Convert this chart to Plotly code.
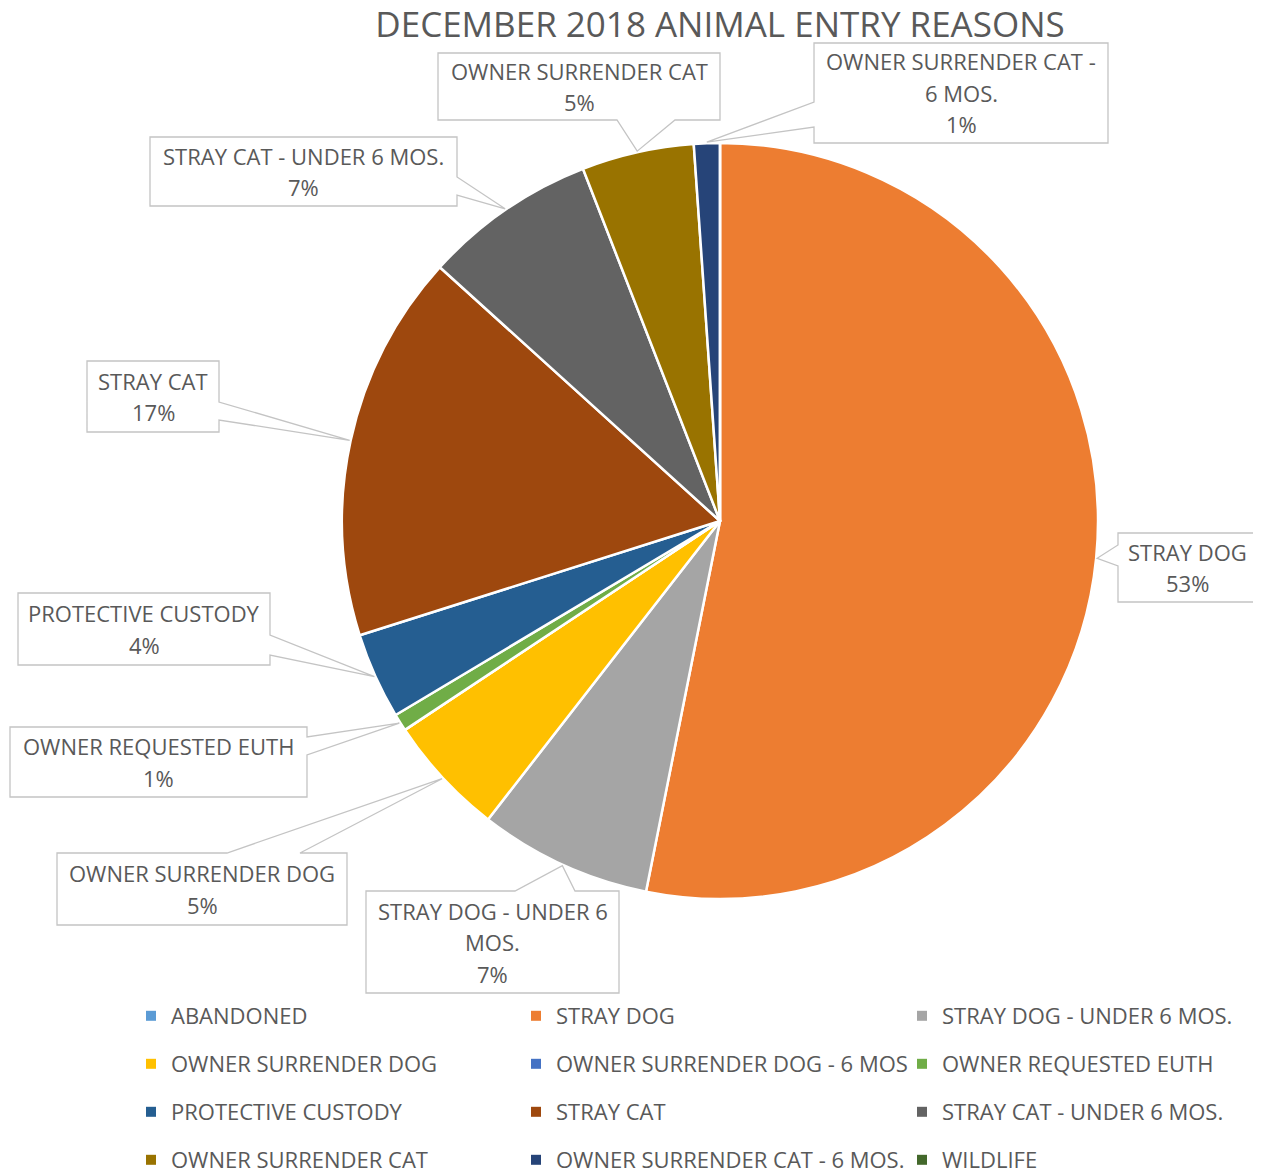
import math
import plotly.graph_objects as go

# ---------------- data ----------------
categories = [
    "ABANDONED", "STRAY DOG", "STRAY DOG - UNDER 6 MOS.",
    "OWNER SURRENDER DOG", "OWNER SURRENDER DOG - 6 MOS", "OWNER REQUESTED EUTH",
    "PROTECTIVE CUSTODY", "STRAY CAT", "STRAY CAT - UNDER 6 MOS.",
    "OWNER SURRENDER CAT", "OWNER SURRENDER CAT - 6 MOS.", "WILDLIFE",
]
counts = [0, 144, 20, 14, 0, 2, 10, 45, 20, 13, 3, 0]
colors = [
    "#5B9BD5", "#ED7D31", "#A5A5A5", "#FFC000", "#4472C4", "#70AD47",
    "#255E91", "#9E480E", "#636363", "#997300", "#264478", "#43682B",
]
title_text = "DECEMBER 2018 ANIMAL ENTRY REASONS"

# ---------------- layout constants ----------------
W, H = 1261, 1172
OFF = 8  # page body margin offset
CX, CY, R = 720, 521, 378
FONT = "Open Sans, sans-serif"
TXT = "#595959"
BOX_LINE = "#C4C4C4"
FS = 22

# callout boxes (pixel layout): box, tail side, tail base span, label lines
callouts = {
    "STRAY DOG": dict(box=(1118, 533, 1256, 602), side="left", base=(545, 566), lines=["STRAY DOG"]),
    "STRAY DOG - UNDER 6 MOS.": dict(box=(366, 891, 619, 993), side="top", base=(515, 575),
                                     lines=["STRAY DOG - UNDER 6", "MOS."]),
    "OWNER SURRENDER DOG": dict(box=(57, 853, 347, 925), side="top", base=(227, 300),
                                lines=["OWNER SURRENDER DOG"]),
    "OWNER REQUESTED EUTH": dict(box=(10, 727, 307, 797), side="right", base=(737, 755),
                                 lines=["OWNER REQUESTED EUTH"]),
    "PROTECTIVE CUSTODY": dict(box=(18, 593, 270, 665), side="right", base=(635, 655),
                               lines=["PROTECTIVE CUSTODY"]),
    "STRAY CAT": dict(box=(87, 361, 219, 432), side="right", base=(402, 420), lines=["STRAY CAT"]),
    "STRAY CAT - UNDER 6 MOS.": dict(box=(150, 137, 457, 206), side="right", base=(177, 195),
                                     lines=["STRAY CAT - UNDER 6 MOS."]),
    "OWNER SURRENDER CAT": dict(box=(438, 53, 720, 120), side="bottom", base=(617, 675),
                                lines=["OWNER SURRENDER CAT"]),
    "OWNER SURRENDER CAT - 6 MOS.": dict(box=(814, 43, 1108, 143), side="left", base=(102, 127),
                                         lines=["OWNER SURRENDER CAT -", "6 MOS."]),
}


def px(x):
    return (x - OFF) / W


def py(y):
    return 1 - (y - OFF) / H


fig = go.Figure()

fig.add_trace(go.Pie(
    labels=categories, values=counts, sort=False, direction="clockwise", rotation=0,
    marker=dict(colors=colors, line=dict(color="white", width=2.5)),
    textinfo="none", showlegend=False,
    domain=dict(x=[px(CX - R), px(CX + R)], y=[py(CY + R), py(CY - R)]),
))

# ---------------- callouts ----------------
total = sum(counts)
shapes = []
annotations = []
cum = 0
for cat, v in zip(categories, counts):
    if cat in callouts and v > 0:
        cfg = callouts[cat]
        theta = 2 * math.pi * (cum + v / 2) / total
        tx = CX + (R + 1) * math.sin(theta)
        ty = CY - (R + 1) * math.cos(theta)
        x0, y0, x1, y1 = cfg["box"]
        a, b = cfg["base"]
        s = cfg["side"]
        if s == "right":
            pts = [(x0, y0), (x1, y0), (x1, a), (tx, ty), (x1, b), (x1, y1), (x0, y1)]
        elif s == "left":
            pts = [(x0, y0), (x1, y0), (x1, y1), (x0, y1), (x0, b), (tx, ty), (x0, a)]
        elif s == "bottom":
            pts = [(x0, y0), (x1, y0), (x1, y1), (b, y1), (tx, ty), (a, y1), (x0, y1)]
        else:
            pts = [(x0, y0), (a, y0), (tx, ty), (b, y0), (x1, y0), (x1, y1), (x0, y1)]
        path = "M " + " L ".join(f"{px(p[0]):.5f},{py(p[1]):.5f}" for p in pts) + " Z"
        shapes.append(dict(type="path", path=path, xref="paper", yref="paper",
                           fillcolor="white", line=dict(color=BOX_LINE, width=1.3), layer="above"))
        lines = cfg["lines"] + [f"{round(v / total * 100)}%"]
        n = len(lines)
        bcx = (x0 + x1) / 2
        bcy = (y0 + y1) / 2
        for i, t in enumerate(lines):
            yy = bcy + (i - (n - 1) / 2) * 31.5
            annotations.append(dict(text=t, x=px(bcx), y=py(yy), xref="paper", yref="paper",
                                    showarrow=False, xanchor="center", yanchor="middle",
                                    font=dict(family=FONT, size=FS, color=TXT)))
    cum += v

# ---------------- legend (3 columns of 4 rows) ----------------
legend_ids = ["legend", "legend2", "legend3"]
for i, (cat, col) in enumerate(zip(categories, colors)):
    fig.add_trace(go.Scatter(
        x=[None], y=[None], mode="markers", name=cat,
        marker=dict(symbol="square", size=10, color=col),
        legend=legend_ids[i % 3], legendgroup=cat, showlegend=True, hoverinfo="skip",
    ))

col_x = [131, 516, 902]
item_h = FS * 1.3 + 3
legend_common = dict(orientation="v", yanchor="top", xanchor="left", y=py(995),
                     font=dict(family=FONT, size=FS, color=TXT), tracegroupgap=48 - item_h,
                     traceorder="grouped", bgcolor="rgba(0,0,0,0)", borderwidth=0)

fig.update_layout(
    width=W, height=H,
    margin=dict(l=0, r=0, t=0, b=0, autoexpand=False),
    paper_bgcolor="white", plot_bgcolor="white",
    title=dict(text=title_text, x=px(CX), xanchor="center", y=py(25), yanchor="middle",
               font=dict(family=FONT, size=35, color=TXT)),
    xaxis=dict(visible=False), yaxis=dict(visible=False),
    shapes=shapes, annotations=annotations,
    legend=dict(x=px(col_x[0]), **legend_common),
    legend2=dict(x=px(col_x[1]), **legend_common),
    legend3=dict(x=px(col_x[2]), **legend_common),
)

fig.write_html("out.html")
